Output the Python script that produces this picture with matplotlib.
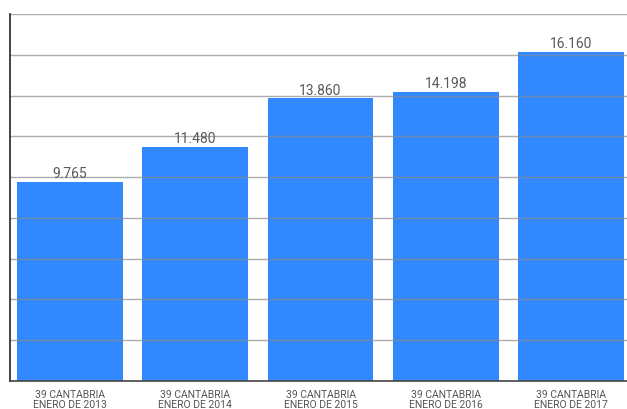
import matplotlib
matplotlib.use("Agg")
import matplotlib.pyplot as plt

categories = ["39 CANTABRIA\nENERO DE 2013", "39 CANTABRIA\nENERO DE 2014",
              "39 CANTABRIA\nENERO DE 2015", "39 CANTABRIA\nENERO DE 2016",
              "39 CANTABRIA\nENERO DE 2017"]
values = [9765, 11480, 13860, 14198, 16160]
labels = ["9.765", "11.480", "13.860", "14.198", "16.160"]

plt.rcParams['font.family'] = ['Roboto', 'DejaVu Sans']
fig = plt.figure(figsize=(6.27, 4.10), dpi=100)
ax = fig.add_axes([9.5/627, 28/410, (627-9.5)/627, (382-15)/410])

x = range(len(values))
bars = ax.bar(x, values, width=0.846, color="#3288ff", zorder=2)
for xi, v, lab in zip(x, values, labels):
    ax.text(xi, v + 80, lab, ha="center", va="bottom", fontsize=10, color="#5a5a5a")

ax.set_ylim(0, 18000)
ax.set_xlim(-0.483, 4.447)
ax.set_yticks(range(0, 18001, 2000))
ax.set_yticklabels([])
ax.tick_params(axis="y", length=0)
ax.tick_params(axis="x", length=0, pad=5.5, labelsize=7.5, labelcolor="#555555")
ax.set_xticks(list(x))
ax.set_xticklabels(categories, linespacing=1.0)
ax.grid(axis="y", color="#8a8a8a", linewidth=1, alpha=0.7, zorder=3)
ax.set_axisbelow(False)
for s in ["top", "right"]:
    ax.spines[s].set_visible(False)
ax.spines["left"].set_color("#222222")
ax.spines["left"].set_linewidth(1.2)
ax.spines["bottom"].set_color("#444444")
ax.spines["bottom"].set_linewidth(1.2)
ax.spines["left"].set_zorder(4)
ax.spines["bottom"].set_zorder(4)

fig.savefig("out.png", dpi=100)
